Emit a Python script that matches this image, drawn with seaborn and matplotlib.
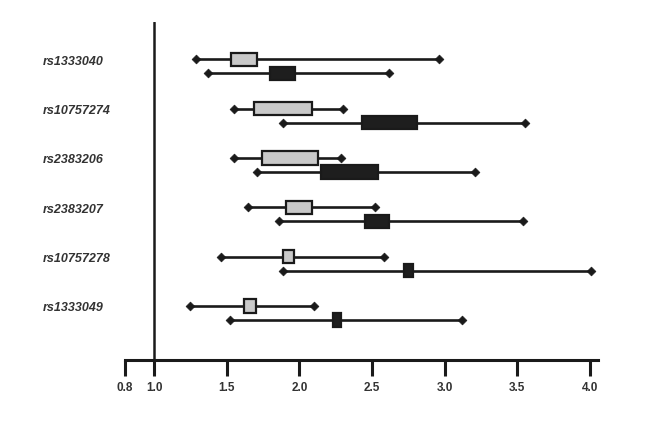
import matplotlib
matplotlib.use("Agg")
import matplotlib.pyplot as plt
import matplotlib.transforms as mtransforms
import seaborn as sns
import pandas as pd

# SNP labels, top to bottom
snps = ["rs1333040", "rs10757274", "rs2383206", "rs2383207", "rs10757278", "rs1333049"]

# light grey series: whisker ends and box edges
light_lo = [1.29, 1.55, 1.55, 1.65, 1.46, 1.25]
light_q1 = [1.53, 1.69, 1.74, 1.91, 1.89, 1.62]
light_q3 = [1.71, 2.09, 2.13, 2.09, 1.96, 1.70]
light_hi = [2.96, 2.30, 2.29, 2.52, 2.58, 2.10]

# dark series
dark_lo = [1.37, 1.89, 1.71, 1.86, 1.89, 1.52]
dark_q1 = [1.80, 2.43, 2.15, 2.45, 2.72, 2.23]
dark_q3 = [1.97, 2.81, 2.54, 2.62, 2.78, 2.29]
dark_hi = [2.62, 3.55, 3.21, 3.54, 4.01, 3.12]

xticks = [0.8, 1.0, 1.5, 2.0, 2.5, 3.0, 3.5, 4.0]

sns.set_style("white")
plt.rcParams['font.family'] = ['Liberation Sans', 'DejaVu Sans']

fig = plt.figure(figsize=(6.53, 4.24), dpi=100)
ax = fig.add_axes([0.1914, 0.1509, 0.7243, 0.7972])

offset = 0.142
box_h = 0.27

def draw_series(lo, q1, q3, hi, shift, fill):
    ys = [k + shift for k in range(len(snps))]
    df = pd.DataFrame({"y": ys + ys, "x": lo + hi})
    ax.hlines(ys, lo, hi, color="#1a1a1a", lw=1.9, zorder=2)
    sns.scatterplot(data=df, x="x", y="y", marker="D", s=20, color="#1a1a1a",
                    edgecolor="#1a1a1a", linewidth=0.5, ax=ax, zorder=3, legend=False)
    widths = [b - a for a, b in zip(q1, q3)]
    ax.barh(ys, widths, left=q1, height=box_h, color=fill,
            edgecolor="#1a1a1a", linewidth=1.6, zorder=4)

draw_series(light_lo, light_q1, light_q3, light_hi, -offset, "#c9c9c9")
draw_series(dark_lo, dark_q1, dark_q3, dark_hi, offset, "#1e1e1e")

ax.axvline(1.0, color="#1a1a1a", lw=1.8, zorder=1)

# SNP names on the left
trans = mtransforms.blended_transform_factory(ax.transAxes, ax.transData)
for k, name in enumerate(snps):
    ax.text(-0.1734, k - 0.095, name, transform=trans, ha="left", va="center",
            fontsize=9, fontweight="bold", fontstyle="italic", color="#333333")

ax.set_xlim(0.8, 4.055)
ax.set_ylim(5.951, -0.898)
ax.set_xticks(xticks)
ax.set_xticklabels([f"{t:.1f}" for t in xticks], fontsize=8.5, fontweight="bold",
                   color="#333333")
ax.set_yticks([])
ax.set_xlabel("")
ax.set_ylabel("")

for side in ["left", "top", "right"]:
    ax.spines[side].set_visible(False)
ax.spines["bottom"].set_linewidth(2.2)
ax.spines["bottom"].set_color("#1a1a1a")
ax.tick_params(axis="x", direction="out", length=11.5, width=2.2, color="#1a1a1a",
               pad=4, bottom=True)

fig.savefig("out.png", dpi=100)
